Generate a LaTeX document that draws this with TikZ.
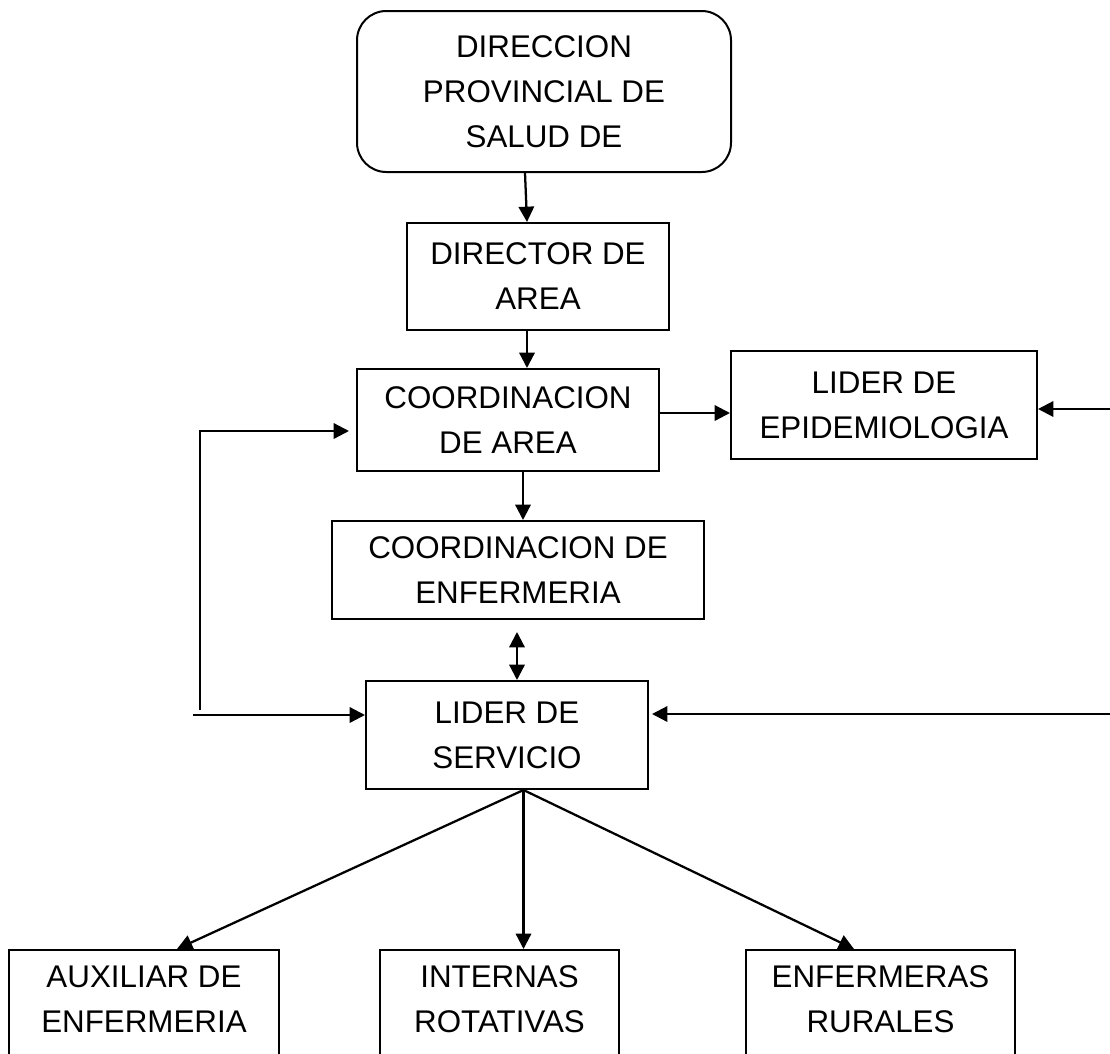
\documentclass[tikz,border=0pt]{standalone}
\usepackage{fontspec}
\setmainfont{Liberation Sans}
\usetikzlibrary{arrows.meta,calc}
\begin{document}
\begin{tikzpicture}[x=0.75pt,y=-0.75pt,
  box/.style={draw,line width=1.5pt,inner sep=0pt,align=center,
    font=\fontsize{23.5pt}{33.75pt}\selectfont},
  arr/.style={line width=1.7pt,-{Triangle[length=11.5pt,width=11.5pt]}},
  darr/.style={line width=1.7pt,{Triangle[length=11.5pt,width=11.5pt]}-{Triangle[length=11.5pt,width=11.5pt]}}]
\clip (0,0) rectangle (1110,1053);
\fill[white] (0,0) rectangle (1110,1053);
\node[box,rounded corners=22pt,minimum width=280.5pt,minimum height=120.75pt] (top) at (544,91.5) {DIRECCION\\PROVINCIAL DE\\SALUD DE};
\node[box,minimum width=196.5pt,minimum height=80.25pt] (dir) at (538,276.5) {DIRECTOR DE\\AREA};
\node[box,minimum width=226.5pt,minimum height=76.5pt] (coa) at (508,420) {COORDINACION\\DE AREA};
\node[box,minimum width=229.5pt,minimum height=81pt] (epi) at (884,405) {LIDER DE\\EPIDEMIOLOGIA};
\node[box,minimum width=279pt,minimum height=73.5pt] (enf) at (518,570) {COORDINACION DE\\ENFERMERIA};
\node[box,minimum width=211.5pt,minimum height=81pt] (ser) at (507,735) {LIDER DE\\SERVICIO};
\node[box,minimum width=202.5pt,minimum height=85.5pt] (aux) at (144,1007) {AUXILIAR DE\\ENFERMERIA\rule[-12pt]{0pt}{12pt}};
\node[box,minimum width=179.25pt,minimum height=85.5pt] (int) at (499.5,1007) {INTERNAS\\ROTATIVAS\rule[-12pt]{0pt}{12pt}};
\node[box,minimum width=201.75pt,minimum height=85.5pt] (rur) at (880.5,1007) {ENFERMERAS\\RURALES\rule[-12pt]{0pt}{12pt}};
\coordinate (epiin) at (1110,409);
\coordinate (serin) at (1110,714);
\coordinate (lin) at (193,715);
\coordinate (ltop) at (200,710);
\coordinate (lcorner) at (200,431);
\coordinate (dstart) at (517,632);
\draw[arr] (525,0 |- top.south) -- (527,0 |- dir.north);
\draw[arr] (527,0 |- dir.south) -- (527,0 |- coa.north);
\draw[arr] (coa.east |- 0,413) -- (epi.west |- 0,413);
\draw[arr] (epiin) -- (epi.east |- epiin);
\draw[arr] (523,0 |- coa.south) -- (523,0 |- enf.north);
\draw[darr] (dstart) -- (dstart |- ser.north);
\draw[arr] (lin) -- (ser.west |- lin);
\draw[arr,shorten >=5.25pt] (ltop) -- (lcorner) -- (coa.west |- lcorner);
\draw[arr,shorten >=2.25pt] (serin) -- (ser.east |- serin);
\draw[arr] (523.5,0 |- ser.south) -- (177,0 |- aux.north);
\draw[arr] (523.5,0 |- ser.south) -- (523.5,0 |- int.north);
\draw[arr] (523.5,0 |- ser.south) -- (854,0 |- rur.north);
\end{tikzpicture}
\end{document}
